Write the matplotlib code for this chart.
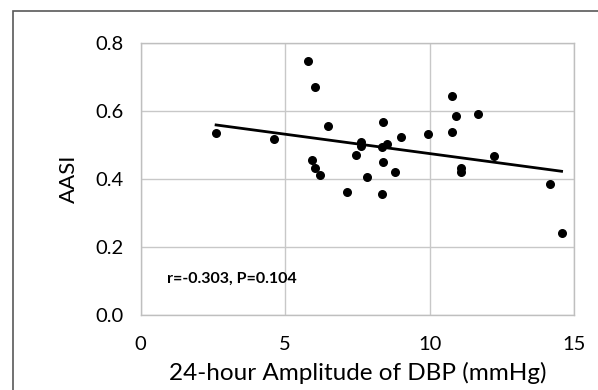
import matplotlib.pyplot as plt
import numpy as np
from matplotlib.patches import Rectangle

# 24-hour amplitude of DBP (mmHg) vs AASI
dbp_amp = [2.61, 4.61, 5.80, 6.02, 6.47, 5.92, 6.02, 6.20, 7.15, 7.44,
           7.61, 7.61, 7.85, 8.38, 8.36, 8.51, 8.38, 8.36, 8.80, 9.01,
           9.95, 10.76, 10.90, 10.76, 11.68, 11.08, 11.08, 12.22, 14.16, 14.57]
aasi = [0.535, 0.518, 0.749, 0.671, 0.557, 0.456, 0.434, 0.412, 0.364, 0.471,
        0.509, 0.498, 0.407, 0.568, 0.496, 0.503, 0.450, 0.357, 0.421, 0.523,
        0.532, 0.646, 0.585, 0.540, 0.592, 0.432, 0.422, 0.469, 0.387, 0.241]
xticks = [0, 5, 10, 15]
yticks = [0.0, 0.2, 0.4, 0.6, 0.8]
ytick_labels = ['0.0', '0.2', '0.4', '0.6', '0.8']
stat_text = 'r=-0.303, P=0.104'

plt.rcParams['font.family'] = ['Lato', 'DejaVu Sans']

W, H = 598, 390
fig = plt.figure(figsize=(W / 100, H / 100), dpi=100)
ax = fig.add_axes([140.7 / W, 1 - 315.3 / H, (574 - 140.7) / W, (315.3 - 43.3) / H])

# outer chart frame (cropped on right and bottom)
fig.patches.append(Rectangle((13 / W, -0.1), 1.2, 1 - 11 / H + 0.1, transform=fig.transFigure,
                             fill=False, edgecolor='#595959', linewidth=1.2))

ax.scatter(dbp_amp, aasi, s=30, color='black', zorder=3)

x = np.array(dbp_amp)
slope, icpt = np.polyfit(x, aasi, 1)
xl = np.array([x.min(), x.max()])
ax.plot(xl, slope * xl + icpt, color='black', linewidth=2, zorder=2)

ax.set_xlim(0, 15)
ax.set_ylim(0, 0.8)
ax.set_xticks(xticks)
ax.set_yticks(yticks)
ax.set_yticklabels(ytick_labels)
ax.tick_params(length=0, labelsize=14.5)
ax.tick_params(axis='y', pad=12)
ax.tick_params(axis='x', pad=15)
ax.grid(True, color='#c8c8c8', linewidth=1)
ax.set_axisbelow(True)
for s in ax.spines.values():
    s.set_color('#bfbfbf')
    s.set_linewidth(1)

ax.set_xlabel('24-hour Amplitude of DBP (mmHg)', fontsize=17.5, labelpad=6)
ax.set_ylabel('AASI', fontsize=16, labelpad=12)
ax.text(0.06, 0.133, stat_text, transform=ax.transAxes, fontsize=11.5,
        fontweight='bold', va='center')

fig.savefig('out.png', dpi=100)
